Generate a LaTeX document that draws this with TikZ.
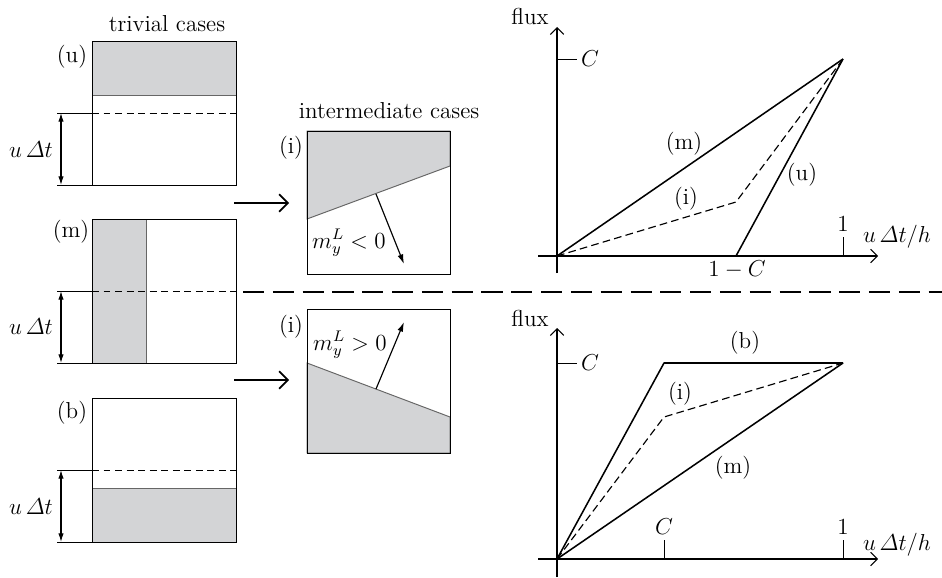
\documentclass[tikz,border=0pt]{standalone}
\usepackage{amsmath,amssymb}
\usepackage{tikz}
\usetikzlibrary{arrows.meta, positioning}

\definecolor{fluidgray}{RGB}{211,212,214}
\newcommand{\udt}{u\,\varDelta t}

\begin{document}
\begin{tikzpicture}[
    x=0.52pt, y=-0.52pt,
    every node/.style={font=\large},
    cell/.style={draw=black, line width=0.5pt},
    fluid/.style={fill=fluidgray, draw=black!60, line width=0.5pt},
    cutline/.style={dash pattern=on 3.6pt off 2.4pt, line width=0.5pt},
    dimarrow/.style={{Latex[length=4.5pt, width=2.8pt]}-{Latex[length=4.5pt, width=2.8pt]}, line width=0.6pt},
    normal/.style={-{Latex[length=5pt, width=3pt]}, line width=0.6pt},
    flow/.style={-{Straight Barb[length=4.5pt, width=9pt]}, line width=0.9pt},
    axis/.style={-{Straight Barb[length=3.5pt, width=7pt]}, line width=0.55pt},
    curve/.style={line width=0.8pt, line join=round},
    midcurve/.style={dash pattern=on 4pt off 2.2pt, line width=0.6pt, line join=round},
    tag/.style={inner sep=1pt}
]
\useasboundingbox (0,0) rectangle (942,577);

% Trivial cases: (u), (m), (b)
\node[tag] (trivial) at (167,24) {trivial cases};

\fill[fluidgray] (92,41) rectangle (236,95);
\draw[draw=black!60, line width=0.5pt] (92,95) -- (236,95);
\draw[cell] (92,41) rectangle (236,185);
\draw[cutline] (92,113) -- (236,113);
\draw[line width=0.5pt] (57,113) -- (92,113) (57,185) -- (92,185);
\coordinate (u-top) at (61,113);
\coordinate (u-bot) at (61,185);
\draw[dimarrow] (u-top) -- (u-bot);
\node[tag] (u-dt) at (31,150) {$\udt$};
\node[tag] (u-tag) at (72,57) {(u)};

\fill[fluidgray] (92,219) rectangle (146,363);
\draw[draw=black!60, line width=0.5pt] (146,219) -- (146,363);
\draw[cell] (92,219) rectangle (236,363);
\draw[cutline] (92,291) -- (236,291);
\draw[line width=0.5pt] (57,291) -- (92,291) (57,363) -- (92,363);
\coordinate (m-top) at (61,291);
\coordinate (m-bot) at (61,363);
\draw[dimarrow] (m-top) -- (m-bot);
\node[tag] (m-dt) at (31,327) {$\udt$};
\node[tag] (m-tag) at (71,232) {(m)};

\fill[fluidgray] (92,488) rectangle (236,542);
\draw[draw=black!60, line width=0.5pt] (92,488) -- (236,488);
\draw[cell] (92,398) rectangle (236,542);
\draw[cutline] (92,470) -- (236,470);
\draw[line width=0.5pt] (57,470) -- (92,470) (57,542) -- (92,542);
\coordinate (b-top) at (61,470);
\coordinate (b-bot) at (61,542);
\draw[dimarrow] (b-top) -- (b-bot);
\node[tag] (b-dt) at (31,507) {$\udt$};
\node[tag] (b-tag) at (72,413) {(b)};

% Intermediate cases
\node[tag] (inter) at (389,111) {intermediate cases};

\draw[fluid] (307,131) -- (450,131) -- (450,166) -- (307,219) -- cycle;
\draw[cell] (307,131) rectangle (450,274);
\coordinate (n1-start) at (376,194);
\coordinate (n1-end) at (404,264);
\draw[normal] (n1-start) -- (n1-end);
\node[tag] (i1-label) at (349,243) {$m_y^L<0$};
\node[tag] (i1-tag) at (291,148) {(i)};

\draw[fluid] (307,363) -- (450,417) -- (450,453) -- (307,453) -- cycle;
\draw[cell] (307,309) rectangle (450,453);
\coordinate (n2-start) at (376,389);
\coordinate (n2-end) at (404,322);
\draw[normal] (n2-start) -- (n2-end);
\node[tag] (i2-label) at (350,345) {$m_y^L>0$};
\node[tag] (i2-tag) at (291,327) {(i)};

% Arrows from trivial to intermediate
\coordinate (flow1-a) at (234,203);
\coordinate (flow1-b) at (289,203);
\coordinate (flow2-a) at (234,380);
\coordinate (flow2-b) at (289,380);
\draw[flow] (flow1-a) -- (flow1-b);
\draw[flow] (flow2-a) -- (flow2-b);

% Separator
\coordinate (sep-a) at (243,292);
\coordinate (sep-b) at (942,292);
\draw[dash pattern=on 11pt off 4.5pt, line width=0.6pt] (sep-a) -- (sep-b);

% Upper flux graph: m_y^L < 0
\coordinate (O1) at (557,256);
\draw[axis] (538,256) -- (878,256);
\draw[axis] (557,273) -- (557,27);
\node[tag] (flux1) at (530,16) {flux};
\node[tag] (xlab1) at (897,237) {$\udt/h$};
\draw[line width=0.5pt] (557,59) -- (577,59);
\node[tag] (C1) at (590,59) {$C$};
\draw[line width=0.5pt] (843,256) -- (843,237);
\node[tag] (one1) at (843,224) {$1$};
\node[tag] (omc1) at (737,270) {$1-C$};
\coordinate (P1) at (843,59);
\coordinate (K1u) at (736,256);
\coordinate (K1i) at (736,202);
\draw[curve] (O1) -- (P1);
\draw[curve] (O1) -- (K1u) -- (P1);
\draw[midcurve] (O1) -- (K1i) -- (P1);
\node[tag] (m1) at (684,144) {(m)};
\node[tag] (i1) at (686,199) {(i)};
\node[tag] (u1) at (802,175) {(u)};

% Lower flux graph: m_y^L > 0
\coordinate (O2) at (557,559);
\draw[axis] (538,559) -- (878,559);
\draw[axis] (557,577) -- (557,328);
\node[tag] (flux2) at (530,318) {flux};
\node[tag] (xlab2) at (897,545) {$\udt/h$};
\draw[line width=0.5pt] (557,363) -- (577,363);
\node[tag] (C2) at (590,363) {$C$};
\draw[line width=0.5pt] (664,559) -- (664,540) (843,559) -- (843,540);
\node[tag] (Cx2) at (664,527) {$C$};
\node[tag] (one2) at (843,527) {$1$};
\coordinate (P2) at (843,363);
\coordinate (K2b) at (664,363);
\coordinate (K2i) at (664,417);
\draw[curve] (O2) -- (K2b) -- (P2);
\draw[curve] (O2) -- (P2);
\draw[midcurve] (O2) -- (K2i) -- (P2);
\node[tag] (b2) at (745,343) {(b)};
\node[tag] (i2) at (680,394) {(i)};
\node[tag] (m2) at (733,468) {(m)};

\end{tikzpicture}
\end{document}
